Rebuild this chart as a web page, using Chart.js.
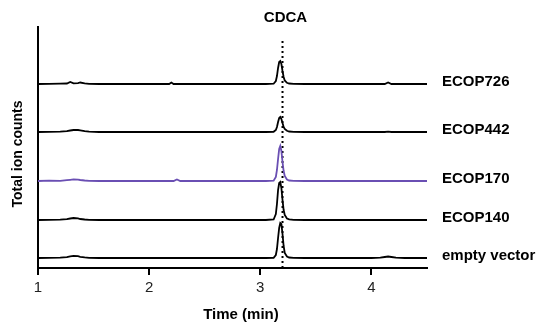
<!DOCTYPE html>
<html>
<head>
<meta charset="utf-8">
<script src="https://cdn.jsdelivr.net/npm/chart.js@4.4.0/dist/chart.umd.min.js"></script>
<style>
  html, body { margin: 0; padding: 0; background: #fff; }
  #wrap { width: 536px; height: 326px; }
</style>
</head>
<body>
<div id="wrap"><canvas id="chart"></canvas></div>
<script>
// retention time (min), shared by all traces
const times = [1.0, 1.1, 1.2, 1.26, 1.29, 1.32, 1.36, 1.38, 1.42, 1.46, 1.55, 1.8, 2.0,
  2.18, 2.2, 2.22, 2.25, 2.28, 2.6, 2.9, 3.05, 3.12, 3.14, 3.15, 3.16, 3.17, 3.18, 3.19,
  3.2, 3.21, 3.22, 3.24, 3.26, 3.3, 3.4, 3.7, 4.0, 4.08, 4.12, 4.15, 4.18, 4.22, 4.3, 4.5];

const seriesNames = ['ECOP726', 'ECOP442', 'ECOP170', 'ECOP140', 'empty vector'];
// vertical stacking offset of each trace (arbitrary units)
const offsets = [184, 136, 87, 48, 10];

const ecop726 = [0, 0.2, 0.3, 0.5, 2.0, 0.6, 0.9, 1.5, 0.6, 0.2, 0, 0, 0,
  0, 1.5, 0, 0, 0, 0, 0, 0, 0.3, 3, 8, 16, 22, 23, 20,
  13, 7, 3.5, 1.2, 0.5, 0.2, 0, 0, 0, 0, 0, 1.5, 0, 0, 0, 0];
const ecop442 = [0, 0.2, 0.4, 0.8, 1.5, 2.0, 2.0, 1.6, 0.8, 0.3, 0, 0, 0,
  0, 0, 0, 0, 0, 0, 0, 0, 0.2, 2, 5, 10, 14, 15, 13,
  9, 5, 3, 1.2, 0.5, 0.2, 0, 0, 0, 0, 0, 0.3, 0, 0, 0, 0];
const ecop170 = [0, 0.3, 0.1, 0.8, 1.2, 1.6, 1.3, 1.0, 0.5, 0.2, 0, 0, 0,
  0, 0, 0, 1.5, 0, 0, 0, 0, 0.3, 4, 11, 22, 32, 35, 30,
  19, 10, 5, 1.5, 0.5, 0.2, 0, 0, 0, 0, 0, 0, 0, 0, 0, 0];
const ecop140 = [0, 0.2, 0.3, 0.8, 1.5, 2.0, 1.6, 1.0, 0.5, 0.2, 0, 0, 0,
  0, 0, 0, 0, 0, 0, 0, 0, 0.5, 6, 16, 30, 37, 38, 32,
  20, 10, 5, 1.5, 0.6, 0.2, 0, 0, 0, 0, 0, 0, 0, 0, 0, 0];
const emptyVector = [0, 0.2, 0.3, 0.8, 1.6, 2.1, 1.8, 1.2, 0.6, 0.2, 0, 0, 0,
  0, 0, 0, 0, 0, 0, 0, 0, 0.2, 3, 9, 20, 30, 35, 34,
  24, 12, 5, 1.5, 0.5, 0.2, 0, 0, 0, 0.3, 1.0, 1.5, 1.0, 0.3, 0, 0];

const seriesValues = [ecop726, ecop442, ecop170, ecop140, emptyVector];
const seriesColors = ['#000000', '#000000', '#6a4fb3', '#000000', '#000000'];

// CDCA reference retention time
const cdcaTime = 3.2;
const cdcaLine = [0, 228];

const xTicks = [1, 2, 3, 4];

const datasets = seriesValues.map((vals, i) => ({
  label: seriesNames[i],
  data: times.map((t, j) => ({ x: t, y: offsets[i] + vals[j] })),
  borderColor: seriesColors[i],
  borderWidth: 1.8,
  pointRadius: 0,
  tension: 0,
  fill: false
}));

datasets.push({
  label: 'CDCA',
  data: cdcaLine.map(v => ({ x: cdcaTime, y: v })),
  borderColor: '#000',
  borderWidth: 2,
  borderDash: [2, 3],
  pointRadius: 0
});

// labels, titles
const annotate = {
  id: 'annotate',
  afterDraw(chart) {
    const { ctx, scales: { x, y } } = chart;
    ctx.save();
    ctx.fillStyle = '#000';
    ctx.font = 'bold 15px "Liberation Sans", Arial, sans-serif';
    ctx.textBaseline = 'middle';
    ctx.textAlign = 'left';
    seriesNames.forEach((name, i) => {
      ctx.fillText(name, 442, y.getPixelForValue(offsets[i]) - 2);
    });
    ctx.textAlign = 'center';
    ctx.fillText('CDCA', x.getPixelForValue(cdcaTime) + 3, 18);
    ctx.fillText('Time (min)', 241, 315);
    ctx.font = 'bold 14px "Liberation Sans", Arial, sans-serif';
    ctx.translate(18, 154);
    ctx.rotate(-Math.PI / 2);
    ctx.fillText('Total ion counts', 0, 0);
    ctx.restore();
  }
};

new Chart(document.getElementById('chart'), {
  type: 'line',
  data: { datasets },
  options: {
    responsive: true,
    maintainAspectRatio: false,
    animation: false,
    layout: { padding: { left: 0, right: 109, top: 27, bottom: 0 } },
    plugins: { legend: { display: false }, tooltip: { enabled: false } },
    scales: {
      x: {
        type: 'linear',
        min: 1,
        max: 4.5,
        afterFit: s => { s.height = 58; },
        afterBuildTicks: s => { s.ticks = xTicks.map(v => ({ value: v })); },
        ticks: {
          padding: 4,
          color: '#222',
          font: { family: '"Liberation Sans", Arial, sans-serif', size: 15 }
        },
        grid: { display: true, drawOnChartArea: false, drawTicks: true, tickLength: 7, color: '#000', lineWidth: 2 },
        border: { display: true, color: '#000', width: 2 }
      },
      y: {
        type: 'linear',
        min: 0,
        max: 241,
        afterFit: s => { s.width = 38; },
        ticks: { display: false },
        grid: { display: false, drawTicks: false },
        border: { display: true, color: '#000', width: 2 }
      }
    }
  },
  plugins: [annotate]
});
</script>
</body>
</html>
